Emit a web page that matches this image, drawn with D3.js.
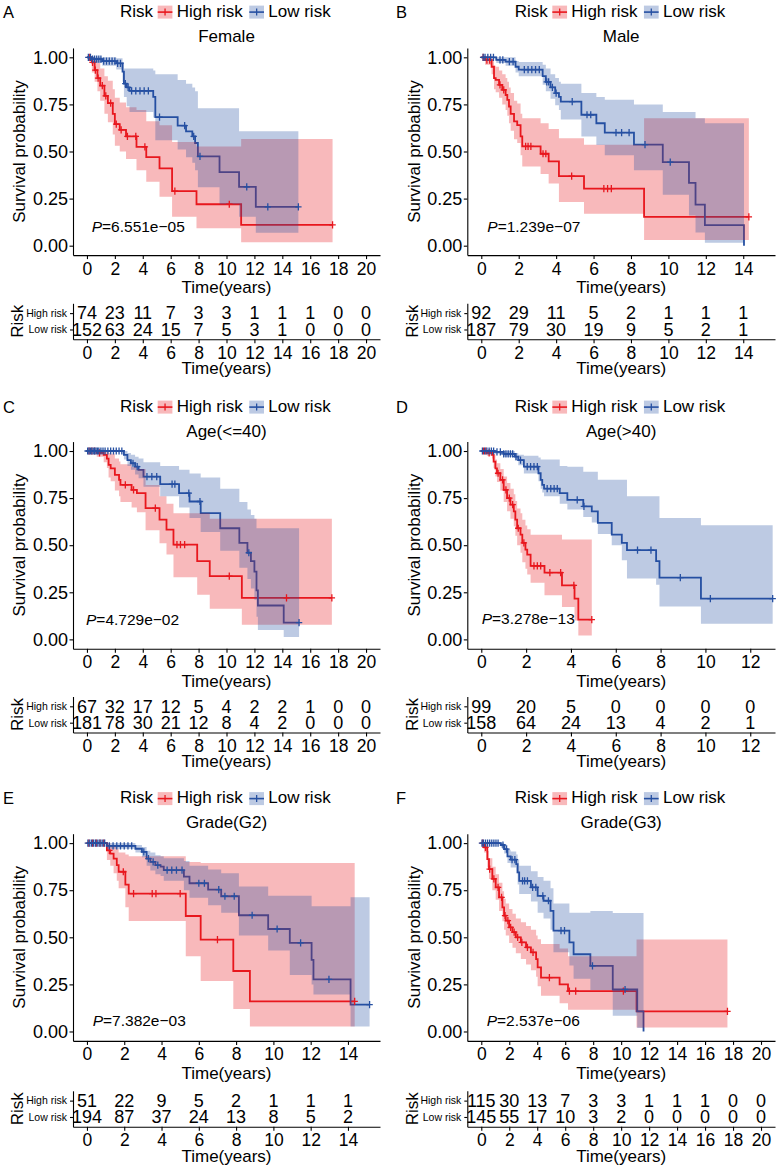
<!DOCTYPE html>
<html><head><meta charset="utf-8">
<script src="https://cdn.jsdelivr.net/npm/d3@7"></script>
<style>
body{margin:0;background:#fff}
svg{display:block}
text{font-family:"Liberation Sans",Arial,Helvetica,sans-serif;fill:#000}
</style>
</head><body>
<svg id="chart" width="783" height="1169"></svg>
<script>
// ---------------- DATA ----------------
const panelLetters = ["A","B","C","D","E","F"];
const panelTitles = ["Female","Male","Age(<=40)","Age(>40)","Grade(G2)","Grade(G3)"];
const pValues = ["6.551e\u221205","1.239e\u221207","4.729e\u221202","3.278e\u221213","7.382e\u221203","2.537e\u221206"];
const groupNames = ["High risk","Low risk"];
const xMaxes = [20, 14.95, 20, 12.48, 14.97, 20];
const timeTicks20 = [0,2,4,6,8,10,12,14,16,18,20];
const timeTicks14 = [0,2,4,6,8,10,12,14];
const timeTicks12 = [0,2,4,6,8,10,12];

// steps: [time, survival, lower, upper]
const femaleHigh = [[0,1,1,1],[0.35,0.973,0.92,1],[0.55,0.932,0.87,0.995],[0.75,0.89,0.82,0.97],[0.95,0.85,0.77,0.94],[1.25,0.795,0.70,0.90],[1.5,0.757,0.655,0.875],[1.85,0.70,0.59,0.83],[2.0,0.645,0.53,0.785],[2.35,0.615,0.50,0.76],[2.8,0.58,0.46,0.735],[3.55,0.525,0.40,0.72],[4.25,0.47,0.34,0.66],[5.2,0.41,0.26,0.64],[6.1,0.29,0.153,0.55],[7.85,0.22,0.092,0.527],[11.05,0.11,0.018,0.566],[17.6,0.11,0.018,0.566]];
const femaleHighCensor = [0.2,0.4,0.6,0.8,1.1,1.35,1.7,2.1,2.45,2.9,3.5,4.15,6.3,10.2,17.6];
const femaleLow = [[0,1,1,1],[0.3,0.99,0.97,1],[1.1,0.98,0.955,1],[2.1,0.968,0.935,0.995],[2.55,0.924,0.87,0.975],[2.65,0.86,0.79,0.94],[2.85,0.84,0.74,0.94],[3.05,0.822,0.71,0.94],[4.75,0.79,0.68,0.93],[4.9,0.683,0.56,0.91],[6.5,0.637,0.51,0.88],[7.1,0.607,0.47,0.86],[7.55,0.58,0.44,0.84],[7.75,0.545,0.40,0.82],[7.95,0.474,0.31,0.73],[9.5,0.39,0.22,0.73],[10.9,0.312,0.153,0.607],[12.1,0.206,0.069,0.607],[15.15,0.206,0.069,0.607]];
const femaleLowCensor = [0.1,0.25,0.4,0.55,0.7,0.85,1.0,1.2,1.4,1.6,1.8,2.0,2.2,2.4,2.75,2.95,3.2,3.5,3.8,4.1,4.4,5.2,7.0,7.65,8.1,11.45,12.96,15.15];
const maleHigh = [[0,1,1,1],[0.2,0.985,0.96,1],[0.55,0.95,0.91,0.99],[0.68,0.89,0.83,0.955],[0.77,0.88,0.815,0.95],[0.95,0.854,0.785,0.93],[1.12,0.827,0.75,0.91],[1.3,0.80,0.72,0.89],[1.39,0.774,0.69,0.87],[1.48,0.739,0.65,0.84],[1.57,0.70,0.61,0.81],[1.75,0.66,0.565,0.77],[1.92,0.64,0.545,0.755],[2.1,0.58,0.48,0.70],[2.19,0.527,0.42,0.677],[3.17,0.488,0.38,0.65],[3.6,0.448,0.33,0.62],[4.15,0.369,0.232,0.57],[5.49,0.303,0.17,0.536],[8.7,0.153,0.03,0.677],[14.3,0.153,0.03,0.677]];
const maleHighCensor = [0.1,0.3,0.45,1.0,1.2,2.37,2.5,2.65,3.3,3.45,4.83,6.55,6.75,6.95,14.3];
const maleLow = [[0,1,1,1],[0.8,0.986,0.97,1],[1.3,0.977,0.955,1],[1.83,0.95,0.92,0.98],[2.0,0.935,0.90,0.975],[3.28,0.90,0.855,0.96],[3.45,0.87,0.82,0.94],[3.7,0.84,0.78,0.91],[3.95,0.81,0.745,0.89],[4.15,0.79,0.72,0.87],[4.25,0.765,0.67,0.86],[5.35,0.695,0.58,0.81],[6.15,0.65,0.535,0.79],[6.6,0.60,0.48,0.775],[8.16,0.536,0.40,0.75],[9.7,0.444,0.27,0.71],[11.1,0.333,0.16,0.71],[11.45,0.218,0.07,0.677],[11.95,0.109,0.016,0.65],[14.04,0,null,null]];
const maleLowCensor = [0.1,0.2,0.35,0.5,0.65,1.0,1.15,1.5,1.7,2.3,2.5,2.7,2.9,3.1,3.5,3.6,3.8,4.0,4.86,5.65,5.85,7.2,7.5,7.9,8.75,10.1];
const youngHigh = [[0,1,1,1],[0.7,0.99,0.97,1],[1.2,0.98,0.94,1],[1.43,0.96,0.91,1],[1.55,0.926,0.86,0.99],[1.7,0.908,0.84,0.985],[2.0,0.873,0.79,0.96],[2.3,0.847,0.76,0.945],[2.4,0.82,0.73,0.93],[3.2,0.794,0.70,0.915],[3.58,0.776,0.675,0.905],[4.2,0.697,0.58,0.82],[5.2,0.636,0.51,0.76],[5.7,0.583,0.45,0.72],[6.2,0.503,0.33,0.67],[7.9,0.415,0.237,0.67],[8.8,0.336,0.163,0.64],[11.1,0.22,0.078,0.64],[17.55,0.22,0.078,0.64]];
const youngHighCensor = [0.15,0.35,0.55,0.9,2.75,3.34,4.9,6.45,6.7,7.0,10.2,14.3,17.55];
const youngLow = [[0,1,1,1],[2.65,0.98,0.955,1],[2.9,0.952,0.92,0.99],[3.15,0.935,0.90,0.98],[3.45,0.917,0.875,0.97],[3.7,0.90,0.855,0.96],[4.05,0.864,0.81,0.94],[5.25,0.824,0.76,0.92],[6.6,0.776,0.70,0.9],[7.35,0.732,0.645,0.88],[8.15,0.67,0.57,0.86],[9.55,0.59,0.47,0.80],[10.92,0.512,0.38,0.73],[11.5,0.46,0.32,0.69],[11.75,0.415,0.27,0.66],[12.0,0.36,0.21,0.64],[12.15,0.26,0.12,0.59],[12.25,0.18,0.05,0.59],[14.1,0.089,0.012,0.59],[15.2,0.089,0.012,0.59]];
const youngLowCensor = [0.05,0.15,0.25,0.35,0.45,0.55,0.65,0.75,0.85,1.0,1.15,1.3,1.5,1.7,1.9,2.1,2.3,2.5,3.3,3.6,4.3,4.65,5.0,6.1,6.3,7.3,8.1,11.6,15.2];
const oldHigh = [[0,1,1,1],[0.25,0.99,0.975,1],[0.48,0.979,0.96,0.995],[0.55,0.944,0.91,0.98],[0.63,0.908,0.865,0.955],[0.7,0.882,0.835,0.935],[0.85,0.847,0.79,0.905],[1.0,0.794,0.73,0.865],[1.15,0.75,0.68,0.83],[1.3,0.715,0.64,0.80],[1.45,0.68,0.60,0.77],[1.52,0.636,0.55,0.735],[1.6,0.59,0.50,0.695],[1.75,0.556,0.46,0.67],[1.83,0.512,0.41,0.635],[1.97,0.477,0.375,0.605],[2.05,0.45,0.345,0.585],[2.2,0.39,0.30,0.556],[2.82,0.354,0.234,0.556],[3.6,0.287,0.172,0.53],[4.16,0.216,0.10,0.53],[4.33,0.105,0.02,0.53],[4.93,0.105,0.02,0.53]];
const oldHighCensor = [0.1,0.2,0.35,0.75,0.95,1.1,1.25,1.4,1.65,1.9,2.35,2.5,2.65,3.06,3.54,4.13,4.93];
const oldLow = [[0,1,1,1],[0.6,0.995,0.985,1],[1.0,0.985,0.97,1],[1.5,0.97,0.95,0.99],[1.65,0.952,0.925,0.98],[1.9,0.917,0.88,0.975],[2.55,0.882,0.84,0.965],[2.65,0.847,0.80,0.955],[2.72,0.82,0.78,0.955],[2.8,0.80,0.76,0.955],[3.5,0.776,0.72,0.92],[3.84,0.741,0.69,0.917],[4.55,0.706,0.65,0.89],[4.93,0.68,0.62,0.89],[5.2,0.618,0.56,0.847],[5.82,0.556,0.50,0.847],[6.27,0.512,0.42,0.847],[6.5,0.474,0.323,0.76],[7.8,0.415,0.29,0.76],[7.95,0.328,0.175,0.644],[9.8,0.216,0.083,0.606],[13.0,0.216,0.083,0.606]];
const oldLowCensor = [0.05,0.15,0.25,0.35,0.45,0.55,0.7,0.85,1.0,1.1,1.2,1.3,1.4,1.55,1.75,2.05,2.2,2.35,2.5,2.94,3.1,3.25,3.39,4.28,4.58,6.97,7.57,8.88,10.22,13.0];
const g2High = [[0,1,1,1],[1.07,0.962,0.91,1],[1.25,0.944,0.88,0.99],[1.43,0.918,0.84,0.985],[1.6,0.883,0.80,0.97],[1.7,0.848,0.76,0.95],[2.06,0.78,0.66,0.94],[2.24,0.732,0.587,0.93],[5.3,0.613,0.40,0.90],[6.1,0.488,0.268,0.895],[7.85,0.321,0.12,0.895],[8.74,0.16,0.027,0.895],[14.36,0.16,0.027,0.895]];
const g2HighCensor = [0.1,0.3,0.5,0.7,0.9,1.2,1.95,2.5,3.5,3.7,5.0,7.0,14.36];
const g2Low = [[0,1,1,1],[1.07,0.985,0.97,1],[2.6,0.97,0.95,0.99],[2.95,0.953,0.925,0.98],[3.2,0.918,0.88,0.96],[3.4,0.90,0.855,0.95],[3.67,0.883,0.835,0.935],[3.95,0.875,0.825,0.93],[4.12,0.857,0.80,0.92],[5.2,0.822,0.75,0.905],[5.5,0.787,0.71,0.88],[6.5,0.753,0.67,0.86],[7.2,0.718,0.63,0.84],[8.15,0.617,0.51,0.77],[9.72,0.544,0.43,0.72],[10.88,0.47,0.30,0.72],[12.05,0.38,0.25,0.665],[12.15,0.277,0.196,0.665],[14.14,0.143,0.027,0.713],[15.16,0.143,0.027,0.713]];
const g2LowCensor = [0.05,0.15,0.25,0.35,0.45,0.55,0.65,0.75,0.85,0.95,1.2,1.4,1.6,1.8,2.0,2.2,2.4,3.05,3.3,3.55,3.8,4.3,4.55,4.8,5.1,6.0,6.3,7.07,7.4,7.9,8.86,10.2,11.46,12.98,15.16];
const g3High = [[0,1,1,1],[0.2,0.977,0.95,1],[0.43,0.915,0.87,0.96],[0.55,0.862,0.81,0.92],[0.79,0.81,0.75,0.875],[1.03,0.765,0.70,0.835],[1.27,0.712,0.64,0.79],[1.51,0.659,0.585,0.745],[1.63,0.615,0.54,0.705],[1.75,0.588,0.51,0.68],[1.99,0.553,0.47,0.65],[2.23,0.527,0.445,0.625],[2.47,0.50,0.415,0.60],[2.83,0.473,0.385,0.58],[3.2,0.447,0.355,0.56],[3.55,0.42,0.325,0.54],[3.92,0.384,0.29,0.51],[4.03,0.34,0.24,0.49],[4.27,0.286,0.19,0.465],[5.6,0.25,0.15,0.44],[6.2,0.214,0.116,0.40],[11.1,0.107,0.021,0.488],[17.6,0.107,0.021,0.488]];
const g3HighCensor = [0.1,0.3,0.6,0.9,1.2,1.45,1.7,1.9,2.1,2.35,2.6,2.9,3.3,3.7,4.87,6.3,6.75,10.16,17.6];
const g3Low = [[0,1,1,1],[1.4,0.99,0.975,1],[1.63,0.968,0.945,0.99],[1.87,0.93,0.895,0.965],[2.1,0.912,0.87,0.955],[2.5,0.888,0.84,0.94],[2.6,0.845,0.78,0.915],[2.71,0.80,0.73,0.88],[3.55,0.765,0.69,0.85],[4.03,0.72,0.63,0.82],[4.45,0.694,0.60,0.80],[4.95,0.64,0.54,0.76],[5.16,0.535,0.42,0.68],[6.3,0.473,0.35,0.63],[6.6,0.41,0.28,0.63],[7.8,0.348,0.22,0.64],[9.4,0.223,0.084,0.629],[11.15,0.107,0.018,0.629],[11.6,0,null,null]];
const g3LowCensor = [0.05,0.15,0.3,0.45,0.6,0.75,0.9,1.05,1.2,1.55,1.8,2.2,2.4,2.95,3.1,3.3,3.67,3.9,4.4,4.8,5.7,5.95,7.95,10.28];

// numbers at risk
const femaleAtRiskHigh = [74,23,11,7,3,3,1,1,1,0,0];
const femaleAtRiskLow  = [152,63,24,15,7,5,3,1,0,0,0];
const maleAtRiskHigh = [92,29,11,5,2,1,1,1];
const maleAtRiskLow  = [187,79,30,19,9,5,2,1];
const youngAtRiskHigh = [67,32,17,12,5,4,2,2,1,0,0];
const youngAtRiskLow  = [181,78,30,21,12,8,4,2,0,0,0];
const oldAtRiskHigh = [99,20,5,0,0,0,0];
const oldAtRiskLow  = [158,64,24,13,4,2,1];
const g2AtRiskHigh = [51,22,9,5,2,1,1,1];
const g2AtRiskLow  = [194,87,37,24,13,8,5,2];
const g3AtRiskHigh = [115,30,13,7,3,3,1,1,1,0,0];
const g3AtRiskLow  = [145,55,17,10,3,2,0,0,0,0,0];

// ---------------- LAYOUT / STYLE ----------------
const RED = "#E8171E", BLUE = "#2650A2";
const colLayout = [
  {x0:73, x1:380, letterX:3, ylabX:19, riskLabX:17},
  {x0:467.3, x1:775, letterX:396, ylabX:414, riskLabX:412}
];
const plotDy = [0, 393.7, 785.8];
const tableDy = [0, 393.2, 787.5];
const headDy = [0, 395, 786.5];
// p-value label position: [left x, centre y relative to the row]
const pvalPos = [[91.7,226.7],[487.3,226.7],[86,225.8],[481.7,224.6],[92.7,234.9],[486.7,234.9]];

const panels = [
  {steps:[femaleHigh,femaleLow], cens:[femaleHighCensor,femaleLowCensor], risk:[femaleAtRiskHigh,femaleAtRiskLow], ticks:timeTicks20},
  {steps:[maleHigh,maleLow], cens:[maleHighCensor,maleLowCensor], risk:[maleAtRiskHigh,maleAtRiskLow], ticks:timeTicks14},
  {steps:[youngHigh,youngLow], cens:[youngHighCensor,youngLowCensor], risk:[youngAtRiskHigh,youngAtRiskLow], ticks:timeTicks20},
  {steps:[oldHigh,oldLow], cens:[oldHighCensor,oldLowCensor], risk:[oldAtRiskHigh,oldAtRiskLow], ticks:timeTicks12},
  {steps:[g2High,g2Low], cens:[g2HighCensor,g2LowCensor], risk:[g2AtRiskHigh,g2AtRiskLow], ticks:timeTicks14},
  {steps:[g3High,g3Low], cens:[g3HighCensor,g3LowCensor], risk:[g3AtRiskHigh,g3AtRiskLow], ticks:timeTicks20}
];
const colors = [RED, BLUE];

const svg = d3.select("#chart");

function survAt(steps, t){
  let s = steps[0][1];
  for (const d of steps){ if (d[0] <= t) s = d[1]; else break; }
  return s;
}

function styleAxis(g, size){
  g.selectAll("path.domain").attr("stroke","#000").attr("stroke-width",1.1);
  g.selectAll(".tick line").attr("stroke","#000").attr("stroke-width",1.1);
  g.selectAll(".tick text").attr("font-size",size).attr("fill","#000")
    .attr("font-family",'"Liberation Sans",Arial,sans-serif');
}

panels.forEach((P, i) => {
  const col = i % 2, row = Math.floor(i / 2);
  const L = colLayout[col];
  const pdy = plotDy[row], tdy = tableDy[row], hdy = headDy[row];
  const D = xMaxes[i];
  const cx = (L.x0 + L.x1) / 2;
  const g = svg.append("g");

  const x = d3.scaleLinear().domain([-0.05 * D, 1.05 * D]).range([L.x0, L.x1]);
  const y = d3.scaleLinear().domain([-0.05, 1.05]).range([pdy + 255.1, pdy + 47.9]);

  // letter
  g.append("text").attr("x", L.letterX).attr("y", hdy + 17.5).attr("font-size", 16.5).text(panelLetters[i]);

  // legend
  const lg = g.append("g");
  const ly = hdy + 16.7;
  lg.append("text").attr("x", cx - 106.5).attr("y", ly).attr("font-size", 17).text("Risk");
  const keyX = [cx - 68.8, cx + 22.8], labX = [cx - 49.8, cx + 41.8];
  [0, 1].forEach(k => {
    lg.append("rect").attr("x", keyX[k]).attr("y", hdy + 5.6).attr("width", 14.7).attr("height", 13)
      .attr("fill", colors[k]).attr("fill-opacity", 0.3);
    lg.append("line").attr("x1", keyX[k]).attr("x2", keyX[k] + 14.7).attr("y1", hdy + 12.1).attr("y2", hdy + 12.1)
      .attr("stroke", colors[k]).attr("stroke-width", 1.6);
    lg.append("line").attr("x1", keyX[k] + 7.35).attr("x2", keyX[k] + 7.35).attr("y1", hdy + 8.6).attr("y2", hdy + 15.6)
      .attr("stroke", colors[k]).attr("stroke-width", 1.3);
    lg.append("text").attr("x", labX[k]).attr("y", ly).attr("font-size", 17).text(groupNames[k]);
  });

  // title
  g.append("text").attr("x", cx).attr("y", hdy + 41.7).attr("text-anchor", "middle").attr("font-size", 17).text(panelTitles[i]);

  // curves
  const line = d3.line().x(d => x(d[0])).y(d => y(d[1])).curve(d3.curveStepAfter);
  const area = d3.area().x(d => x(d[0])).y0(d => y(d[2])).y1(d => y(d[3])).curve(d3.curveStepAfter);
  P.steps.forEach((st, k) => {
    g.append("path").attr("d", line(st)).attr("fill", "none").attr("stroke", colors[k]).attr("stroke-width", 1.8);
  });
  P.steps.forEach((st, k) => {
    const pts = st.map((d, j) => (d[2] == null ? [d[0], d[1], st[j - 1][2], st[j - 1][3]] : d));
    g.append("path").attr("d", area(pts)).attr("fill", colors[k]).attr("fill-opacity", 0.3).attr("stroke", "none");
  });
  P.cens.forEach((cs, k) => {
    const st = P.steps[k];
    g.append("g").selectAll("path").data(cs).join("path")
      .attr("d", t => { const px = x(t), py = y(survAt(st, t)); return `M${px - 3.2},${py}h6.4M${px},${py - 3.6}v7.2`; })
      .attr("stroke", colors[k]).attr("stroke-width", 1.3).attr("fill", "none");
  });

  // p value
  const pt = g.append("text").attr("x", pvalPos[i][0]).attr("y", pdy + pvalPos[i][1]).attr("dy", "0.35em").attr("font-size", 15.5);
  pt.append("tspan").attr("font-style", "italic").text("P");
  pt.append("tspan").text("=" + pValues[i]);

  // axes
  const yAx = g.append("g").attr("transform", `translate(${L.x0},0)`)
    .call(d3.axisLeft(y).tickValues([0, 0.25, 0.5, 0.75, 1]).tickFormat(d3.format(".2f")).tickSize(3.5).tickPadding(1.5).tickSizeOuter(0));
  styleAxis(yAx, 18);
  const xAx = g.append("g").attr("transform", `translate(0,${pdy + 255.1})`)
    .call(d3.axisBottom(x).tickValues(P.ticks).tickFormat(d3.format("d")).tickSize(4).tickPadding(3).tickSizeOuter(0));
  styleAxis(xAx, 17.5);

  g.append("text").attr("transform", `translate(${L.ylabX},${pdy + 151.5}) rotate(-90)`)
    .attr("text-anchor", "middle").attr("dy", "0.35em").attr("font-size", 17).text("Survival probability");
  g.append("text").attr("x", cx).attr("y", pdy + 287.5).attr("dy", "0.35em").attr("text-anchor", "middle").attr("font-size", 17).text("Time(years)");

  // risk table
  const ty = d3.scalePoint().domain(groupNames).range([tdy + 303.3, tdy + 339.3]).padding(0.6);
  P.risk.forEach((arr, k) => {
    g.append("g").selectAll("text").data(arr).join("text")
      .attr("x", (d, j) => x(P.ticks[j])).attr("y", ty(groupNames[k])).attr("dy", "0.35em")
      .attr("text-anchor", "middle").attr("font-size", 18).text(d => d);
  });
  const tyAx = g.append("g").attr("transform", `translate(${L.x0},0)`)
    .call(d3.axisLeft(ty).tickSize(3).tickPadding(3).tickSizeOuter(0));
  styleAxis(tyAx, 10.5);
  tyAx.selectAll(".tick text").attr("fill", (d, j) => colors[j]);
  const txAx = g.append("g").attr("transform", `translate(0,${tdy + 339.3})`)
    .call(d3.axisBottom(x).tickValues(P.ticks).tickFormat(d3.format("d")).tickSize(4).tickPadding(3).tickSizeOuter(0));
  styleAxis(txAx, 17.5);
  g.append("text").attr("x", cx).attr("y", tdy + 368.3).attr("dy", "0.35em").attr("text-anchor", "middle").attr("font-size", 17).text("Time(years)");
  g.append("text").attr("transform", `translate(${L.riskLabX},${tdy + 321.3}) rotate(-90)`)
    .attr("text-anchor", "middle").attr("dy", "0.35em").attr("font-size", 17).text("Risk");
});
</script>
</body></html>
